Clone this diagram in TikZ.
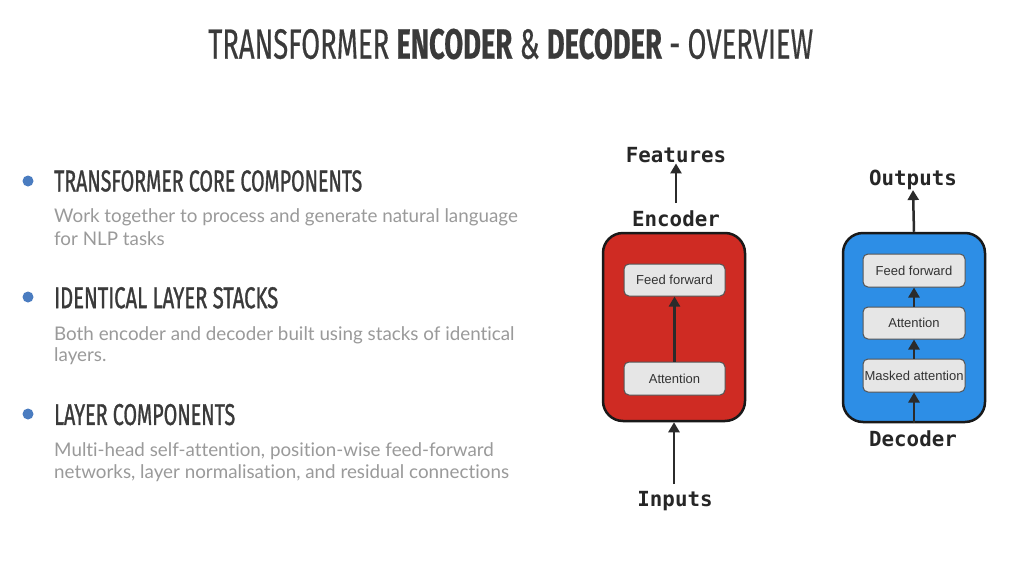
\documentclass[tikz,border=0pt]{standalone}
\usepackage{fontspec}
\usepackage{graphicx}
\usetikzlibrary{arrows.meta}
\setmainfont{Lato}[Ligatures=NoCommon]
\newfontfamily\headfont{Fira Sans}[FakeBold=0.6]
\newfontfamily\subheadfont{Fira Sans}[FakeBold=1.4]
\newfontfamily\monofont{DejaVu Sans Mono}
\newfontfamily\boxfont{Liberation Sans}
\definecolor{titlegray}{HTML}{3A3A3A}
\definecolor{bodygray}{HTML}{9A9A9A}
\definecolor{bulletblue}{HTML}{4A7CC0}
\definecolor{encred}{HTML}{CF2B23}
\definecolor{decblue}{HTML}{2D8EE6}
\definecolor{layerfill}{HTML}{E6E6E6}
\definecolor{layerline}{HTML}{555555}
\definecolor{arrowgray}{HTML}{2B2B2B}
\tikzset{
  heading/.style={anchor=west, inner sep=0pt, text=titlegray},
  body/.style={anchor=base west, inner sep=0pt, text=bodygray, font=\fontsize{18.8}{22}\selectfont},
  bulletdot/.style={circle, fill=bulletblue, inner sep=0pt, minimum size=11pt},
  stackbox/.style={draw=black!90, line width=2.5pt, rounded corners=20pt},
  layerbox/.style={draw=layerline, fill=layerfill, line width=1pt, rounded corners=5pt,
    inner sep=0pt, font=\boxfont\fontsize{13}{13}\selectfont, text=black!80},
  monolabel/.style={font=\monofont\bfseries\fontsize{20.8}{20.8}\selectfont, text=black!85, inner sep=0pt},
  flow/.style={draw=arrowgray, line width=2.5pt, -{Triangle[length=10pt,width=11pt]}},
}
\begin{document}
\begin{tikzpicture}[x=1pt,y=-1pt]
\useasboundingbox[fill=white] (0,0) rectangle (1021,584);

% Title
\node[inner sep=0pt] (title) at (510.7,44)
  {\resizebox{605pt}{30pt}{\headfont\color{titlegray}TRANSFORMER \textbf{ENCODER} \& \textbf{DECODER} - OVERVIEW}};

% Left column
\node[bulletdot] (b1) at (28,181) {};
\node[heading] (h1) at (54,181) {\resizebox{308pt}{21pt}{\subheadfont TRANSFORMER CORE COMPONENTS}};
\node[body] (t1a) at (54,222.7) {Work together to process and generate natural language};
\node[body] (t1b) at (54,245) {for NLP tasks};

\node[bulletdot] (b2) at (28,297) {};
\node[heading] (h2) at (54,297.8) {\resizebox{224pt}{21pt}{\subheadfont IDENTICAL LAYER STACKS}};
\node[body] (t2a) at (54,340) {Both encoder and decoder built using stacks of identical};
\node[body] (t2b) at (54,361.7) {layers.};

\node[bulletdot] (b3) at (28,414) {};
\node[heading] (h3) at (54,414.6) {\resizebox{181pt}{21pt}{\subheadfont LAYER COMPONENTS}};
\node[body] (t3a) at (54,456) {Multi-head self-attention, position-wise feed-forward};
\node[body] (t3b) at (54,478.3) {networks, layer normalisation, and residual connections};

% Encoder
\node[stackbox, fill=encred, minimum width=142pt, minimum height=188pt] (enc) at (674,327) {};
\node[layerbox, minimum width=101pt, minimum height=32pt] (encff) at (674.5,280) {Feed forward};
\node[layerbox, minimum width=101pt, minimum height=33pt] (encatt) at (674.5,378.5) {Attention};
\node[monolabel] (enclabel) at (676,219) {Encoder};
\node[monolabel] (features) at (676,155.5) {Features};
\node[monolabel] (inputs) at (675,501) {Inputs};
\coordinate (featbase) at (676,203);
\coordinate (inbase) at (674,484);
\draw[flow] (featbase) -- (features.south);
\draw[flow] (encatt.north) -- (encff.south);
\draw[flow] (inbase) -- (enc.south);

% Decoder
\node[stackbox, fill=decblue, minimum width=142pt, minimum height=189pt] (dec) at (914,327.5) {};
\node[layerbox, minimum width=102pt, minimum height=33pt] (decff) at (914,270.5) {Feed forward};
\node[layerbox, minimum width=102pt, minimum height=32pt] (decatt) at (914,323) {Attention};
\node[layerbox, minimum width=102pt, minimum height=33pt] (decmask) at (914,375.5) {Masked attention};
\node[monolabel] (outputs) at (913,180) {Outputs};
\node[monolabel] (declabel) at (913,439) {Decoder};
\draw[flow] (dec.north) -- (outputs.south);
\draw[flow] (decatt.north) -- (decff.south);
\draw[flow] (decmask.north) -- (decatt.south);
\draw[flow] (dec.south) -- (decmask.south);
\end{tikzpicture}
\end{document}
